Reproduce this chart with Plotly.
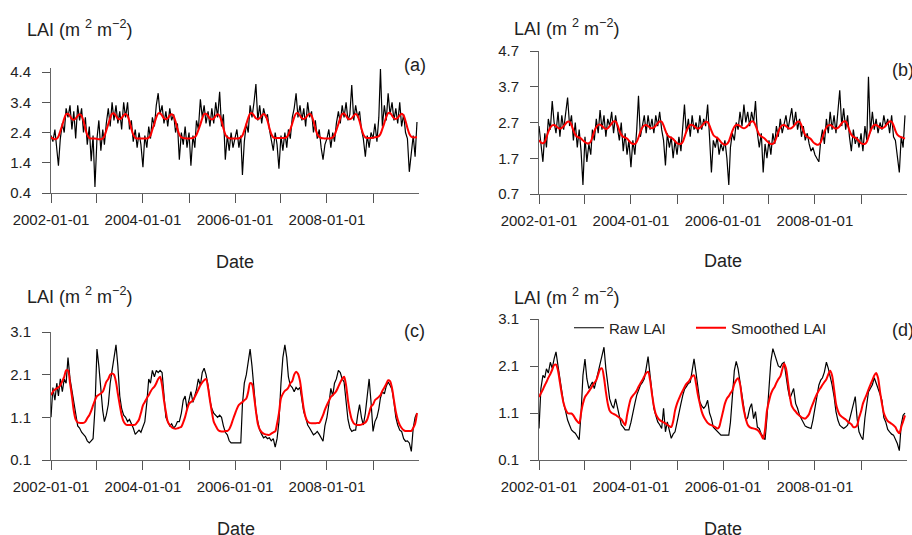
import plotly.graph_objects as go

YEARS = list(range(2002, 2010))
# half-monthly sampling dates (1st and 16th of each month)
dates = [f"{y}-{m:02d}-{d:02d}" for y in YEARS for m in range(1, 13) for d in (1, 16)]

year_ticks = [f"{y}-01-01" for y in YEARS]
year_labels = ["2002-01-01", "", "2004-01-01", "", "2006-01-01", "", "2008-01-01", ""]

# ---------------- panel (a) ----------------
raw_a = [
    2.3, 2.1, 2.5, 1.9, 1.3, 2.2, 2.7, 2.4, 3.2, 2.9, 3.3, 2.5, 3.1, 2.2, 3.3, 2.8, 3.2, 2.4, 2.9, 2.0, 2.6, 1.45, 2.3, 0.6,
    2.2, 2.8, 1.8, 2.5, 2.0, 2.7, 3.2, 2.6, 3.4, 2.8, 3.3, 2.7, 3.1, 2.5, 3.4, 2.9, 3.4, 2.5, 2.8, 2.1, 2.5, 1.9, 2.4, 2.0,
    1.25, 2.3, 1.9, 2.6, 2.2, 2.9, 2.6, 3.3, 3.7, 3.0, 3.3, 2.7, 3.1, 2.6, 3.2, 2.8, 3.0, 2.4, 2.7, 1.5, 2.4, 2.0, 2.6, 1.9,
    2.4, 1.3, 2.3, 1.9, 2.8, 2.5, 3.5, 2.9, 3.3, 2.7, 3.1, 2.6, 3.2, 2.7, 3.4, 2.9, 3.75, 2.6, 3.0, 1.5, 2.3, 1.8, 2.4, 1.9,
    2.2, 2.5, 1.9, 2.3, 1.0, 2.1, 2.7, 2.4, 3.3, 2.9, 3.4, 4.0, 2.8, 3.3, 2.7, 3.2, 2.9, 3.0, 2.5, 2.2, 1.8, 2.4, 2.0, 1.2,
    2.3, 1.8, 2.4, 1.9, 2.5, 2.2, 2.9, 3.2, 3.7, 2.9, 3.3, 2.8, 3.2, 2.6, 3.4, 2.9, 3.1, 2.4, 2.8, 2.2, 2.5, 1.9, 1.5, 2.0,
    2.2, 2.5, 1.9, 2.4, 2.1, 2.7, 3.1, 2.7, 3.3, 2.9, 3.4, 2.8, 3.0, 3.97, 2.8, 3.3, 2.9, 3.1, 2.5, 2.2, 1.6, 2.3, 1.9, 2.4,
    2.2, 2.7, 2.1, 2.9, 4.5, 2.6, 3.3, 2.8, 3.7, 3.0, 3.4, 2.8, 3.2, 2.7, 3.4, 2.6, 3.0, 2.4, 2.2, 1.1, 1.7, 2.3, 1.6, 2.75,
]
smooth_a = [
    2.25, 2.2, 2.18, 2.2, 2.27, 2.45, 2.65, 2.86, 3.0, 3.02, 2.94, 2.85, 2.82, 2.86, 2.95, 3.0, 2.95, 2.78, 2.52, 2.32, 2.22, 2.2, 2.2, 2.2,
    2.19, 2.18, 2.18, 2.2, 2.28, 2.47, 2.68, 2.88, 3.02, 3.03, 2.95, 2.86, 2.84, 2.88, 2.97, 3.01, 2.95, 2.77, 2.52, 2.33, 2.23, 2.2, 2.2, 2.2,
    2.2, 2.2, 2.2, 2.23, 2.3, 2.5, 2.7, 2.9, 3.03, 3.04, 2.96, 2.87, 2.84, 2.87, 2.96, 3.0, 2.94, 2.76, 2.52, 2.33, 2.24, 2.22, 2.21, 2.2,
    2.2, 2.21, 2.22, 2.25, 2.32, 2.48, 2.67, 2.87, 3.01, 3.02, 2.95, 2.86, 2.83, 2.86, 2.95, 3.0, 2.95, 2.78, 2.54, 2.34, 2.24, 2.21, 2.2, 2.2,
    2.2, 2.2, 2.21, 2.24, 2.3, 2.47, 2.68, 2.88, 3.02, 3.04, 2.96, 2.87, 2.84, 2.87, 2.96, 3.01, 2.96, 2.79, 2.55, 2.35, 2.24, 2.22, 2.22, 2.22,
    2.22, 2.22, 2.22, 2.25, 2.33, 2.5, 2.7, 2.9, 3.03, 3.04, 2.96, 2.87, 2.85, 2.88, 2.97, 3.02, 2.96, 2.78, 2.54, 2.35, 2.25, 2.22, 2.21, 2.2,
    2.2, 2.2, 2.21, 2.24, 2.31, 2.48, 2.68, 2.88, 3.01, 3.03, 2.95, 2.86, 2.84, 2.87, 2.96, 3.01, 2.95, 2.77, 2.53, 2.34, 2.24, 2.22, 2.22, 2.22,
    2.23, 2.24, 2.25, 2.28, 2.35, 2.52, 2.72, 2.92, 3.04, 3.05, 2.96, 2.87, 2.85, 2.88, 2.97, 3.02, 2.96, 2.78, 2.55, 2.36, 2.26, 2.24, 2.24, 2.24,
]
ticks_a = [0.4, 1.4, 2.4, 3.4, 4.4]

# ---------------- panel (b) ----------------
raw_b = [
    2.6, 2.1, 1.6, 2.4, 2.0, 2.8, 2.5, 3.3, 2.7, 2.4, 3.0, 2.3, 2.9, 2.5, 3.0, 3.4, 2.6, 2.9, 2.2, 2.7, 2.0, 2.5, 1.9, 0.95,
    2.3, 1.6, 2.1, 1.8, 2.5, 2.2, 2.8, 2.4, 3.05, 2.5, 2.9, 2.3, 2.8, 2.6, 3.0, 2.4, 2.9, 2.5, 2.2, 2.7, 1.9, 2.4, 1.8, 2.2,
    1.45, 2.2, 1.8, 2.5, 3.45, 2.3, 2.6, 2.9, 2.4, 2.9, 2.5, 2.8, 2.4, 2.9, 2.6, 3.0, 2.5, 2.2, 1.5, 2.4, 2.0, 2.3, 1.7, 2.2,
    1.8, 2.3, 1.9, 2.6, 3.2, 2.4, 2.8, 2.3, 2.9, 2.5, 2.7, 2.4, 2.9, 2.5, 2.8, 2.6, 3.2, 2.3, 1.3, 2.2, 2.0, 2.3, 1.8, 2.1,
    1.9, 2.2, 1.7, 0.95, 2.0, 2.4, 2.2, 2.7, 2.5, 3.0, 2.6, 3.2, 2.7, 3.0, 2.6, 3.0, 2.7, 3.3, 2.4, 2.0, 2.4, 1.3, 2.1, 1.7,
    2.2, 1.8, 2.4, 2.1, 2.6, 2.3, 2.8, 2.4, 2.7, 2.9, 2.5, 2.8, 3.1, 2.6, 3.0, 2.5, 2.8, 2.3, 2.6, 2.2, 2.4, 2.1, 1.9, 2.0,
    1.8, 1.7, 1.6, 2.2, 2.5, 2.1, 2.8, 2.4, 3.0, 2.5, 2.9, 2.4, 3.0, 3.6, 2.6, 3.1, 2.5, 2.9, 2.3, 1.9, 2.5, 2.1, 2.3, 2.0,
    2.4, 1.9, 2.6, 2.2, 3.98, 2.4, 3.0, 2.5, 2.8, 2.4, 2.7, 2.5, 2.9, 2.6, 2.8, 2.4, 2.9, 2.3, 2.2, 1.7, 1.3, 2.3, 2.0, 2.9,
]
smooth_b = [
    2.21, 2.14, 2.12, 2.16, 2.28, 2.44, 2.56, 2.62, 2.63, 2.6, 2.55, 2.53, 2.55, 2.6, 2.67, 2.72, 2.72, 2.63, 2.48, 2.36, 2.3, 2.28, 2.25, 2.2,
    2.15, 2.12, 2.12, 2.17, 2.29, 2.45, 2.57, 2.63, 2.64, 2.6, 2.55, 2.52, 2.54, 2.6, 2.67, 2.73, 2.73, 2.63, 2.48, 2.36, 2.3, 2.28, 2.25, 2.19,
    2.13, 2.1, 2.1, 2.16, 2.28, 2.44, 2.56, 2.62, 2.63, 2.6, 2.56, 2.54, 2.56, 2.61, 2.68, 2.73, 2.72, 2.62, 2.47, 2.35, 2.3, 2.28, 2.24, 2.18,
    2.12, 2.1, 2.1, 2.16, 2.29, 2.45, 2.57, 2.63, 2.63, 2.6, 2.55, 2.53, 2.55, 2.6, 2.67, 2.72, 2.71, 2.61, 2.47, 2.35, 2.3, 2.27, 2.22, 2.15,
    2.1, 2.08, 2.1, 2.17, 2.3, 2.46, 2.58, 2.63, 2.63, 2.6, 2.56, 2.54, 2.56, 2.61, 2.68, 2.73, 2.72, 2.62, 2.48, 2.36, 2.31, 2.28, 2.24, 2.18,
    2.13, 2.1, 2.1, 2.16, 2.28, 2.44, 2.56, 2.62, 2.63, 2.6, 2.55, 2.53, 2.55, 2.6, 2.67, 2.72, 2.72, 2.62, 2.47, 2.35, 2.3, 2.27, 2.23, 2.16,
    2.11, 2.08, 2.09, 2.15, 2.28, 2.44, 2.56, 2.62, 2.63, 2.6, 2.55, 2.53, 2.55, 2.6, 2.68, 2.73, 2.73, 2.63, 2.48, 2.36, 2.3, 2.28, 2.24, 2.18,
    2.12, 2.1, 2.1, 2.16, 2.29, 2.45, 2.57, 2.63, 2.63, 2.6, 2.56, 2.54, 2.56, 2.61, 2.68, 2.73, 2.72, 2.62, 2.47, 2.36, 2.31, 2.29, 2.27, 2.25,
]
ticks_b = [0.7, 1.7, 2.7, 3.7, 4.7]

# ---------------- panel (c) ----------------
raw_c = [
    1.1, 1.8, 1.5, 1.9, 1.6, 2.0, 1.7, 2.0, 1.9, 2.5, 2.0, 1.7, 1.5, 1.2, 0.9, 0.85, 0.75, 0.7, 0.65, 0.55, 0.5, 0.55, 0.6, 1.3,
    2.7, 2.3, 1.7, 1.25, 1.0, 1.15, 1.4, 1.9, 2.2, 2.45, 2.8, 2.3, 1.6, 1.3, 1.15, 1.1, 1.0, 1.05, 0.95, 0.85, 0.7, 0.75, 0.8, 0.75,
    0.9, 1.0, 1.45, 2.0, 1.9, 2.2, 2.05, 2.2, 2.15, 2.2, 2.15, 1.5, 1.1, 1.0, 0.9, 0.95, 0.85, 0.9, 1.0, 1.0, 1.2, 1.5, 1.6, 1.3,
    1.5, 1.7, 1.45, 1.6, 1.75, 2.0, 1.85, 2.15, 2.25, 2.1, 1.85, 1.5, 1.3, 1.2, 1.15, 1.1, 1.15, 1.1, 0.9, 0.75, 0.69, 0.55, 0.5, 0.5,
    0.5, 0.5, 0.5, 0.5, 1.4, 1.9, 2.1, 2.4, 2.7, 2.3, 1.7, 1.25, 1.0, 0.8, 0.7, 0.62, 0.65, 0.6, 0.62, 0.55, 0.6, 0.4, 0.6, 1.0,
    1.9, 2.5, 2.8, 2.5, 2.05, 1.85, 1.8, 1.7, 1.8, 1.75, 1.8, 1.5, 1.23, 1.1, 0.92, 0.85, 0.75, 0.69, 0.72, 0.77, 0.7, 0.6, 0.54, 0.9,
    1.1, 1.4, 1.78, 1.6, 1.9, 2.0, 2.2, 2.15, 2.0, 1.93, 1.5, 1.05, 0.85, 0.77, 0.8, 0.8, 1.15, 1.4, 1.1, 0.92, 1.2, 1.6, 2.0, 1.46,
    0.77, 1.0, 1.1, 1.3, 1.56, 1.7, 1.65, 1.83, 1.93, 1.85, 1.75, 1.46, 1.1, 0.92, 0.8, 0.77, 0.6, 0.54, 0.55, 0.5, 0.3, 0.85, 1.1, 1.2,
]
smooth_c = [
    1.62, 1.7, 1.75, 1.78, 1.8, 1.85, 1.95, 2.05, 2.2, 2.2, 1.9, 1.6, 1.25, 1.05, 0.98, 0.97, 0.97, 0.97, 1.0, 1.08, 1.15, 1.25, 1.38, 1.5,
    1.6, 1.63, 1.66, 1.7, 1.8, 1.93, 2.0, 2.1, 2.13, 2.1, 1.93, 1.65, 1.39, 1.15, 1.0, 0.94, 0.92, 0.92, 0.92, 0.92, 0.93, 0.98, 1.05, 1.2,
    1.38, 1.46, 1.55, 1.62, 1.7, 1.77, 1.82, 1.9, 2.0, 2.05, 1.85, 1.5, 1.23, 1.0, 0.92, 0.87, 0.84, 0.83, 0.84, 0.86, 0.88, 0.98, 1.11, 1.28,
    1.42, 1.46, 1.5, 1.58, 1.66, 1.75, 1.85, 1.92, 1.97, 2.0, 1.8, 1.5, 1.23, 1.0, 0.9, 0.82, 0.78, 0.77, 0.77, 0.78, 0.78, 0.82, 0.92, 1.05,
    1.18, 1.3, 1.39, 1.43, 1.46, 1.5, 1.54, 1.7, 1.9, 1.88, 1.6, 1.25, 0.95, 0.82, 0.75, 0.72, 0.7, 0.69, 0.69, 0.72, 0.75, 0.77, 0.95, 1.2,
    1.55, 1.65, 1.72, 1.75, 1.8, 1.9, 1.95, 2.1, 2.17, 2.12, 1.95, 1.62, 1.3, 1.1, 1.0, 0.97, 0.96, 0.96, 0.96, 0.97, 0.97, 1.05, 1.15, 1.28,
    1.39, 1.48, 1.58, 1.62, 1.66, 1.72, 1.82, 1.92, 2.0, 2.05, 1.85, 1.5, 1.23, 1.05, 0.96, 0.93, 0.92, 0.92, 0.93, 0.95, 0.98, 1.05, 1.2, 1.35,
    1.4, 1.5, 1.54, 1.58, 1.62, 1.72, 1.8, 1.88, 1.97, 1.95, 1.78, 1.5, 1.23, 1.05, 0.92, 0.85, 0.8, 0.78, 0.78, 0.78, 0.78, 0.85, 0.95, 1.2,
]
ticks_c = [0.1, 1.1, 2.1, 3.1]

# ---------------- panel (d) ----------------
raw_d = [
    0.77, 1.62, 1.9, 1.85, 2.04, 1.95, 2.18, 2.05, 2.25, 2.4, 2.1, 1.8, 1.55, 1.3, 1.13, 0.95, 0.84, 0.74, 0.7, 0.67, 0.6, 0.53, 1.1, 1.9,
    2.25, 1.83, 1.62, 1.7, 1.76, 1.62, 1.8, 1.95, 2.1, 2.3, 2.5, 2.04, 1.7, 1.4, 1.27, 1.2, 1.4, 1.2, 0.98, 0.85, 0.8, 0.74, 0.74, 0.74,
    0.9, 1.13, 1.3, 1.48, 1.6, 1.69, 1.75, 1.83, 2.05, 2.3, 1.9, 1.5, 1.2, 1.05, 0.91, 0.85, 0.77, 1.2, 0.7, 0.91, 0.75, 0.56, 0.65, 0.7,
    0.9, 1.13, 1.3, 1.48, 1.6, 1.66, 1.73, 1.75, 1.97, 2.25, 1.95, 1.6, 1.34, 1.25, 1.2, 1.25, 1.37, 1.1, 0.98, 0.8, 0.75, 0.7, 0.67, 0.63,
    0.63, 0.63, 0.63, 0.63, 0.9, 1.4, 2.0, 2.2, 2.04, 1.76, 1.45, 1.2, 0.95, 1.0, 1.2, 1.3, 0.98, 1.13, 0.8, 0.77, 0.65, 0.6, 0.53, 1.0,
    1.6, 2.2, 2.47, 2.35, 2.25, 2.1, 2.07, 2.15, 2.18, 1.85, 1.6, 1.41, 1.5, 1.62, 1.3, 1.2, 1.05, 0.98, 0.9, 0.82, 0.8, 0.78, 0.77, 0.95,
    1.2, 1.5, 1.69, 1.8, 1.85, 1.97, 2.18, 2.05, 1.9, 1.7, 1.45, 1.13, 0.95, 0.84, 0.8, 0.77, 0.8, 0.84, 0.95, 1.13, 1.3, 1.45, 0.98, 0.7,
    0.6, 0.53, 1.0, 1.35, 1.55, 1.62, 1.7, 1.85, 1.75, 1.62, 1.5, 1.37, 1.0, 0.91, 0.75, 0.7, 0.65, 0.63, 0.55, 0.45, 0.3, 0.85, 1.05, 1.1,
]
smooth_d = [
    1.44, 1.52, 1.6, 1.69, 1.76, 1.85, 1.93, 2.02, 2.12, 2.13, 2.0, 1.75, 1.5, 1.3, 1.17, 1.1, 1.09, 1.09, 1.05, 0.98, 0.92, 0.88, 1.1, 1.3,
    1.44, 1.5, 1.56, 1.62, 1.68, 1.74, 1.8, 1.92, 2.03, 2.05, 1.85, 1.55, 1.3, 1.15, 1.1, 1.08, 1.06, 1.03, 1.0, 0.97, 0.9, 0.84, 1.05, 1.25,
    1.41, 1.47, 1.52, 1.58, 1.66, 1.73, 1.8, 1.88, 1.95, 1.98, 1.8, 1.5, 1.25, 1.08, 1.0, 0.95, 0.92, 0.9, 0.88, 0.85, 0.82, 0.8, 0.92, 1.15,
    1.3, 1.4, 1.5, 1.58, 1.65, 1.72, 1.76, 1.82, 1.88, 1.9, 1.72, 1.48, 1.3, 1.13, 1.02, 0.95, 0.89, 0.86, 0.84, 0.82, 0.8, 0.77, 0.8, 0.95,
    1.13, 1.3, 1.41, 1.46, 1.52, 1.58, 1.72, 1.8, 1.84, 1.72, 1.4, 1.15, 0.98, 0.85, 0.8, 0.78, 0.77, 0.76, 0.74, 0.7, 0.63, 0.55, 0.75, 1.15,
    1.35, 1.5, 1.6, 1.66, 1.74, 1.82, 1.88, 2.02, 2.15, 2.05, 1.75, 1.45, 1.25, 1.18, 1.13, 1.08, 1.04, 1.01, 0.99, 0.98, 1.02, 1.08, 1.2, 1.3,
    1.41, 1.5, 1.58, 1.64, 1.7, 1.76, 1.82, 1.92, 2.0, 1.9, 1.6, 1.3, 1.15, 1.06, 1.02, 0.99, 0.96, 0.92, 0.89, 0.86, 0.8, 0.8, 0.84, 1.0,
    1.13, 1.3, 1.41, 1.5, 1.6, 1.7, 1.8, 1.9, 1.95, 1.85, 1.55, 1.3, 1.1, 1.0, 0.93, 0.9, 0.87, 0.84, 0.8, 0.72, 0.67, 0.8, 0.92, 1.05,
]
ticks_d = [0.1, 1.1, 2.1, 3.1]

W, H = 912, 535
FONT = "Liberation Sans, Arial, sans-serif"
TXT = "#222222"
AX = "#666666"


def px_x(p):
    return p / W


def px_y(p):
    return 1 - p / H


fig = go.Figure()

panels = [
    ("a", raw_a, smooth_a, "x", "y"),
    ("b", raw_b, smooth_b, "x2", "y2"),
    ("c", raw_c, smooth_c, "x3", "y3"),
    ("d", raw_d, smooth_d, "x4", "y4"),
]
for key, raw, sm, xa, ya in panels:
    fig.add_trace(go.Scatter(
        x=dates, y=raw, xaxis=xa, yaxis=ya, mode="lines",
        line=dict(color="black", width=1.2), name="Raw LAI",
        showlegend=(key == "d"), legend="legend"))
    fig.add_trace(go.Scatter(
        x=dates, y=sm, xaxis=xa, yaxis=ya, mode="lines",
        line=dict(color="#ff0000", width=2, shape="spline", smoothing=0.8),
        name="Smoothed LAI", showlegend=(key == "d"), legend="legend2"))

xcommon = dict(
    range=["2002-01-01", "2010-01-01"], tickmode="array",
    tickvals=year_ticks, ticktext=year_labels, ticks="outside", ticklen=9,
    tickcolor="#555555", showline=True, linecolor=AX, linewidth=1,
    showgrid=False, zeroline=False, ticklabelstandoff=4, automargin=False,
    tickfont=dict(family=FONT, size=15, color=TXT))
ycommon = dict(
    tickmode="array", ticks="outside", ticklen=8, tickcolor="#555555",
    showline=True, linecolor=AX, linewidth=1, showgrid=False,
    zeroline=False, tickformat=".1f", ticklabelstandoff=8, automargin=False,
    tickfont=dict(family=FONT, size=15, color=TXT))

left = [px_x(51), px_x(419)]
right = [px_x(539), px_x(907)]

fig.update_layout(
    xaxis=dict(domain=left, anchor="y", **xcommon),
    xaxis2=dict(domain=right, anchor="y2", **xcommon),
    xaxis3=dict(domain=left, anchor="y3", **xcommon),
    xaxis4=dict(domain=right, anchor="y4", **xcommon),
    yaxis=dict(domain=[px_y(193), px_y(67.5)], range=[0.4, 4.55], tickvals=ticks_a, anchor="x", **ycommon),
    yaxis2=dict(domain=[px_y(194), px_y(51)], range=[0.7, 4.7], tickvals=ticks_b, anchor="x2", **ycommon),
    yaxis3=dict(domain=[px_y(460), px_y(332)], range=[0.1, 3.1], tickvals=ticks_c, anchor="x3", **ycommon),
    yaxis4=dict(domain=[px_y(460), px_y(319)], range=[0.1, 3.1], tickvals=ticks_d, anchor="x4", **ycommon),
    width=W, height=H, autosize=False,
    margin=dict(l=0, r=0, t=0, b=0, pad=0, autoexpand=False),
    paper_bgcolor="white", plot_bgcolor="white",
    font=dict(family=FONT, color=TXT),
    legend=dict(orientation="h", x=px_x(569), y=px_y(328), xanchor="left", yanchor="middle",
                bgcolor="rgba(0,0,0,0)", borderwidth=0, font=dict(family=FONT, size=15, color=TXT)),
    legend2=dict(orientation="h", x=px_x(691), y=px_y(328), xanchor="left", yanchor="middle",
                 bgcolor="rgba(0,0,0,0)", borderwidth=0, font=dict(family=FONT, size=15, color=TXT)),
)

title_txt = "LAI (m <sup>2</sup> m<sup>\u22122</sup>)"
ann = []
for (tx, ty) in [(25, 29), (512, 27), (25, 295), (512, 296)]:
    ann.append(dict(x=px_x(tx), y=px_y(ty), xref="paper", yref="paper", text=title_txt,
                    showarrow=False, xanchor="left", yanchor="middle",
                    font=dict(family=FONT, size=18, color=TXT)))
for (tx, ty) in [(235, 262), (723, 261), (236, 529), (723, 529)]:
    ann.append(dict(x=px_x(tx), y=px_y(ty), xref="paper", yref="paper", text="Date",
                    showarrow=False, xanchor="center", yanchor="middle",
                    font=dict(family=FONT, size=18, color=TXT)))
for (lab, tx, ty) in [("(a)", 402, 65), ("(b)", 890, 70), ("(c)", 402, 331), ("(d)", 890, 330)]:
    ann.append(dict(x=px_x(tx), y=px_y(ty), xref="paper", yref="paper", text=lab,
                    showarrow=False, xanchor="left", yanchor="middle",
                    font=dict(family=FONT, size=18, color=TXT)))
fig.update_layout(annotations=ann)

# remove the default 8px page margin so the 912x535 figure fills the window exactly
fig.write_html(
    "out.html",
    config={"displayModeBar": False},
    post_script="document.body.style.margin='0';document.body.style.overflow='hidden';",
)
